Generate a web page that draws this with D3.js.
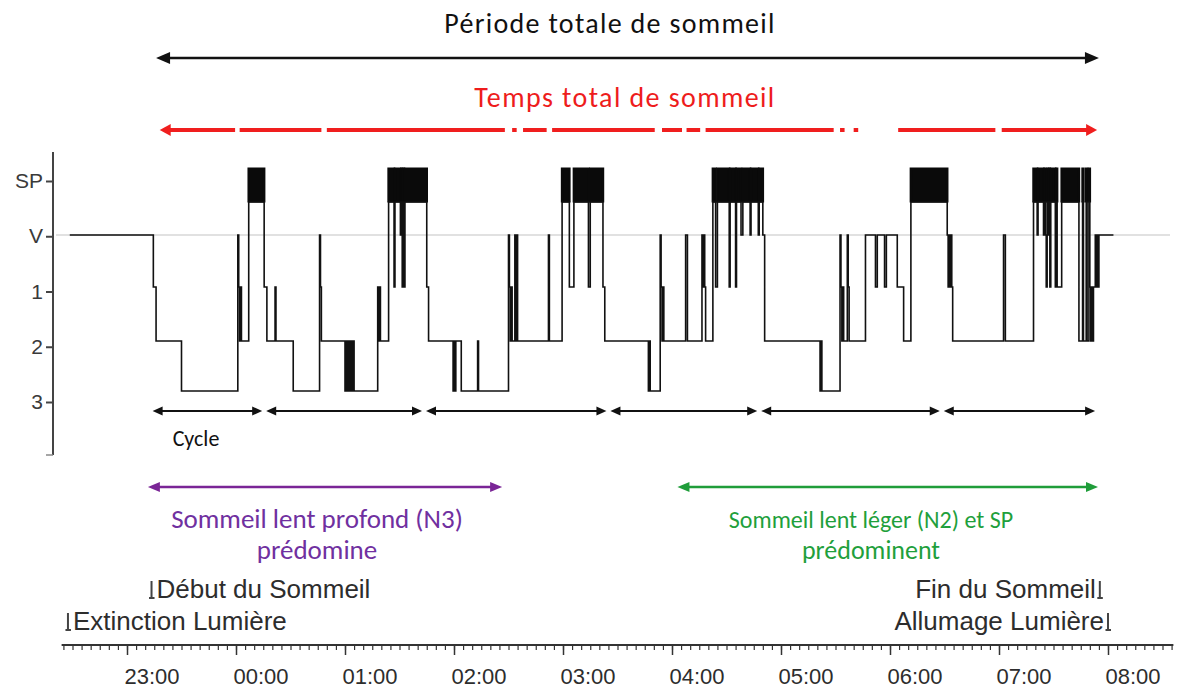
<!DOCTYPE html>
<html><head><meta charset="utf-8">
<script src="https://cdn.jsdelivr.net/npm/d3@7"></script>
<style>body{margin:0;background:#fff}svg{display:block}</style>
</head><body>
<svg id="c" width="1180" height="690"></svg>
<script>
// ---------- DATA (times in minutes after 22:00) ----------
const stageLabels = ["SP", "V", "1", "2", "3"];
const hourLabels = ["23:00","00:00","01:00","02:00","03:00","04:00","05:00","06:00","07:00","08:00"];
// hypnogram transitions: [minute, stage]
const hypnogram = [
  [28.5,"V"],[74.5,"1"],[76,"2"],[90,"3"],
  [121,"V"],[121.5,"1"],[122,"2"],[122.5,"1"],[123,"2"],
  [127,"SP"],[135.5,"1"],[137,"2"],[141.5,"1"],[142,"2"],[151.5,"3"],
  [166,"V"],[166.5,"1"],[167,"2"],
  [180,"3"],[180.5,"2"],[181,"3"],[181.5,"2"],[182,"3"],[182.5,"2"],[183,"3"],[183.5,"2"],[184,"3"],[184.5,"2"],[185,"3"],
  [198,"1"],[198.5,"2"],[199,"1"],[199.5,"2"],
  [204,"SP"],[207,"1"],[207.5,"SP"],[210.5,"V"],[211,"SP"],[211.5,"1"],[212,"SP"],[212.5,"1"],[213,"SP"],
  [225,"1"],[226,"2"],[239.5,"3"],[240,"2"],[240.5,"3"],[241,"2"],[244,"3"],[253,"2"],[253.5,"3"],
  [270,"V"],[270.5,"1"],[271,"2"],[271.5,"1"],[272,"2"],
  [273.5,"V"],[274,"2"],[274.5,"V"],[275,"2"],[292,"V"],[292.5,"2"],
  [299.5,"SP"],[303.5,"1"],[306,"SP"],[314,"1"],[315,"SP"],
  [322,"1"],[323,"2"],[347,"3"],[347.5,"2"],[348,"3"],
  [353.5,"V"],[354,"1"],[354.5,"2"],[355,"1"],[355.5,"2"],
  [367.5,"V"],[368.5,"2"],
  [376.5,"V"],[377,"1"],[377.5,"V"],[378,"1"],[378.5,"2"],
  [382.5,"SP"],[384,"1"],[385,"SP"],[391.5,"1"],[392,"SP"],[395,"1"],[395.5,"SP"],
  [398,"V"],[399,"SP"],[403,"V"],[403.5,"SP"],[407.5,"V"],[408,"SP"],[410,"V"],[411,"2"],
  [441.5,"3"],[442,"2"],[442.5,"3"],
  [452.5,"V"],[453,"1"],[453.5,"2"],[454,"1"],[454.5,"2"],
  [456.5,"V"],[457,"1"],[457.5,"2"],
  [466.5,"V"],[472,"1"],[473,"V"],[477,"1"],[478,"V"],
  [484,"1"],[487.5,"2"],[491.5,"SP"],
  [511.5,"V"],[512,"1"],[512.5,"V"],[513,"1"],[513.5,"V"],[514,"1"],[514.5,"2"],
  [542.5,"V"],[543.5,"2"],
  [559,"SP"],[561,"V"],[561.5,"SP"],
  [564.5,"V"],[565,"SP"],[565.5,"V"],[566,"1"],[566.5,"SP"],[567,"V"],[567.5,"SP"],[568,"1"],[568.5,"SP"],
  [571,"1"],[571.5,"SP"],[572,"1"],[574.5,"SP"],
  [584,"2"],[586,"SP"],[586.5,"2"],[588,"SP"],[588.5,"2"],[589.5,"SP"],[590,"1"],[590.5,"2"],[591,"1"],[591.5,"2"],[592,"1"],
  [593,"V"],[593.5,"1"],[594,"V"],[594.5,"1"],[595,"V"]
];
const hypnogramEnd = 603;
const cycleBounds = [73, 135.5, 223.5, 325, 408, 508.5, 594];
const sleepPeriod = [76, 595];
const sleepTimeSegments = [[78,119.5],[122,167],[170,268],[272,274.5],[278,291],[294,350.5],[354.5,365.5],[368,375.5],[378.5,449],[452.5,455],[460,462.5],[484.5,538],[541.5,594]];
const n3Span = [71.5, 266.5];
const n2Span = [363, 594.5];
const events = [
  {label:"Début du Sommeil", t:73.5, row:0, side:"after"},
  {label:"Extinction Lumière", t:27.5, row:1, side:"after"},
  {label:"Fin du Sommeil", t:595.5, row:0, side:"before"},
  {label:"Allumage Lumière", t:600, row:1, side:"before"}
];
const titleText = "Période totale de sommeil";
const tstText = "Temps total de sommeil";
const n3Text = ["Sommeil lent profond (N3)", "prédomine"];
const n2Text = ["Sommeil lent léger (N2) et SP", "prédominent"];
const cycleText = "Cycle";

// ---------- SCALES ----------
const base = new Date(2000,0,1,22,0,0);
const T = m => new Date(base.getTime() + m*60000);
const x = d3.scaleTime().domain([T(0), T(660)]).range([18, 1217]);
const xm = m => x(T(m));
const yTrace = d3.scaleOrdinal().domain(stageLabels).range([202, 235, 287, 341, 391]);
const yAxisScale = d3.scalePoint().domain(stageLabels).range([181, 402]);
const remTop = 168;

const svg = d3.select("#c");
svg.append("rect").attr("width",1180).attr("height",690).attr("fill","#fff");

const calibri = "Carlito, Lato, 'Open Sans', sans-serif";
const arial = "'Liberation Sans', Arial, sans-serif";

function arrowHead(g, tipX, y, dir, len, half, color){
  g.append("path")
    .attr("d", `M${tipX},${y} L${tipX - dir*len},${y-half} L${tipX - dir*len},${y+half} Z`)
    .attr("fill", color);
}
function dblArrow(g, x1, x2, y, color, w, len, half){
  g.append("line").attr("x1", x1+len*0.6).attr("x2", x2-len*0.6).attr("y1", y).attr("y2", y)
    .attr("stroke", color).attr("stroke-width", w);
  arrowHead(g, x1, y, -1, len, half, color);
  arrowHead(g, x2, y, 1, len, half, color);
}

// ---------- TITLES ----------
svg.append("text").attr("x",610).attr("y",33).attr("text-anchor","middle")
  .attr("font-family",calibri).attr("font-size",28).attr("letter-spacing",1.3).attr("fill","#111").text(titleText);
dblArrow(svg, xm(sleepPeriod[0]), xm(sleepPeriod[1]), 58, "#111", 2.5, 14, 6);

svg.append("text").attr("x",625).attr("y",107).attr("text-anchor","middle")
  .attr("font-family",calibri).attr("font-size",28).attr("letter-spacing",1.4).attr("fill","#ee1c1c").text(tstText);
const red = "#f01e1e";
sleepTimeSegments.forEach((s,i) => {
  let a = xm(s[0]), b = xm(s[1]);
  if (i === 0) { arrowHead(svg, a, 130, -1, 11, 6, red); a += 8; }
  if (i === sleepTimeSegments.length-1) { arrowHead(svg, b, 130, 1, 11, 6, red); b -= 8; }
  svg.append("line").attr("x1",a).attr("x2",b).attr("y1",130).attr("y2",130)
    .attr("stroke",red).attr("stroke-width",4);
});

// ---------- Y AXIS ----------
const yAx = svg.append("g").attr("transform","translate(53,0)")
  .call(d3.axisLeft(yAxisScale).tickSize(7).tickPadding(3));
yAx.select(".domain").remove();
yAx.selectAll(".tick line").attr("stroke","#444").attr("stroke-width",2);
yAx.selectAll(".tick text").attr("font-family",arial).attr("font-size",21).attr("fill","#3a3a3a");
svg.append("line").attr("x1",53).attr("x2",53).attr("y1",152).attr("y2",455)
  .attr("stroke","#444").attr("stroke-width",2);
svg.append("line").attr("x1",46).attr("x2",53).attr("y1",455).attr("y2",455)
  .attr("stroke","#888").attr("stroke-width",1.5);

// V reference line
svg.append("line").attr("x1",56).attr("x2",1170).attr("y1",yTrace("V")).attr("y2",yTrace("V"))
  .attr("stroke","#c4c4c4").attr("stroke-width",1.2);

// ---------- HYPNOGRAM ----------
const pts = hypnogram.concat([[hypnogramEnd, hypnogram[hypnogram.length-1][1]]]);
// REM blocks
const remG = svg.append("g");
for (let i=0;i<hypnogram.length;i++){
  if (hypnogram[i][1] !== "SP") continue;
  const a = xm(hypnogram[i][0]), b = xm(pts[i+1][0]);
  remG.append("rect").attr("x",a).attr("y",remTop+0.75).attr("width",b-a).attr("height",yTrace("SP")-remTop-1.5)
    .attr("fill","#0a0a0a").attr("stroke","#0a0a0a").attr("stroke-width",2.5);
}
const line = d3.line().x(d=>xm(d[0])).y(d=>yTrace(d[1])).curve(d3.curveStepAfter);
svg.append("path").attr("d", line(pts)).attr("fill","none").attr("stroke","#111")
  .attr("stroke-width",1.6).attr("stroke-linejoin","miter");

// ---------- CYCLES ----------
for (let i=0;i<cycleBounds.length-1;i++){
  dblArrow(svg, xm(cycleBounds[i])+2, xm(cycleBounds[i+1])-2, 411, "#111", 2, 10, 4.5);
}
svg.append("text").attr("x",196).attr("y",446).attr("text-anchor","middle")
  .attr("font-family",calibri).attr("font-size",22).attr("fill","#111").text(cycleText);

// ---------- N3 / N2 ----------
const purple = "#7a2596", green = "#1f9d3a";
dblArrow(svg, xm(n3Span[0]), xm(n3Span[1]), 487, purple, 2.5, 12, 5);
dblArrow(svg, xm(n2Span[0]), xm(n2Span[1]), 487, green, 2.5, 12, 5);
const n3Sizes = [27, 27], n2Sizes = [24, 26];
n3Text.forEach((t,i)=> svg.append("text").attr("x",317).attr("y",528+i*31).attr("text-anchor","middle")
  .attr("font-family",calibri).attr("font-size",n3Sizes[i]).attr("fill","#7030a0").text(t));
n2Text.forEach((t,i)=> svg.append("text").attr("x",871).attr("y",528+i*31).attr("text-anchor","middle")
  .attr("font-family",calibri).attr("font-size",n2Sizes[i]).attr("fill","#1fa03c").text(t));

// ---------- EVENTS ----------
events.forEach(e=>{
  const ex = xm(e.t), by = e.row === 0 ? 598 : 630;
  svg.append("path").attr("d",`M${ex},${by-17} L${ex},${by} M${ex-2.5},${by} L${ex+3},${by}`)
    .attr("stroke","#444").attr("stroke-width",2).attr("fill","none");
  svg.append("text").attr("x", e.side==="after" ? ex+5 : ex-4).attr("y",by)
    .attr("text-anchor", e.side==="after" ? "start" : "end")
    .attr("font-family",arial).attr("font-size",26).attr("fill","#2d2d2d").text(e.label);
});

// ---------- TIME AXIS ----------
const parseHour = s => { const h = +s.slice(0,2); return T((h>=22 ? h-22 : h+2)*60); };
const majorTicks = hourLabels.map(parseHour);
const minorTicks = d3.range(25, 636, 5).map(T);
const axY = 645;
svg.append("g").attr("transform",`translate(0,${axY})`)
  .call(d3.axisBottom(x).tickValues(minorTicks).tickSize(5).tickFormat(""))
  .call(g=>{ g.select(".domain").remove(); g.selectAll(".tick line").attr("stroke","#333").attr("stroke-width",1.2); });
const maj = svg.append("g").attr("transform",`translate(0,${axY})`)
  .call(d3.axisBottom(x).tickValues(majorTicks).tickSize(10).tickPadding(13).tickFormat(d3.timeFormat("%H:%M")));
maj.select(".domain").remove();
maj.selectAll(".tick line").attr("stroke","#333").attr("stroke-width",1.5);
maj.selectAll(".tick text").attr("text-anchor","start").attr("x",-3)
  .attr("font-family",arial).attr("font-size",22).attr("fill","#2d2d2d");
svg.append("line").attr("x1",xm(24)).attr("x2",xm(636)).attr("y1",axY).attr("y2",axY)
  .attr("stroke","#333").attr("stroke-width",2);
</script>
</body></html>
